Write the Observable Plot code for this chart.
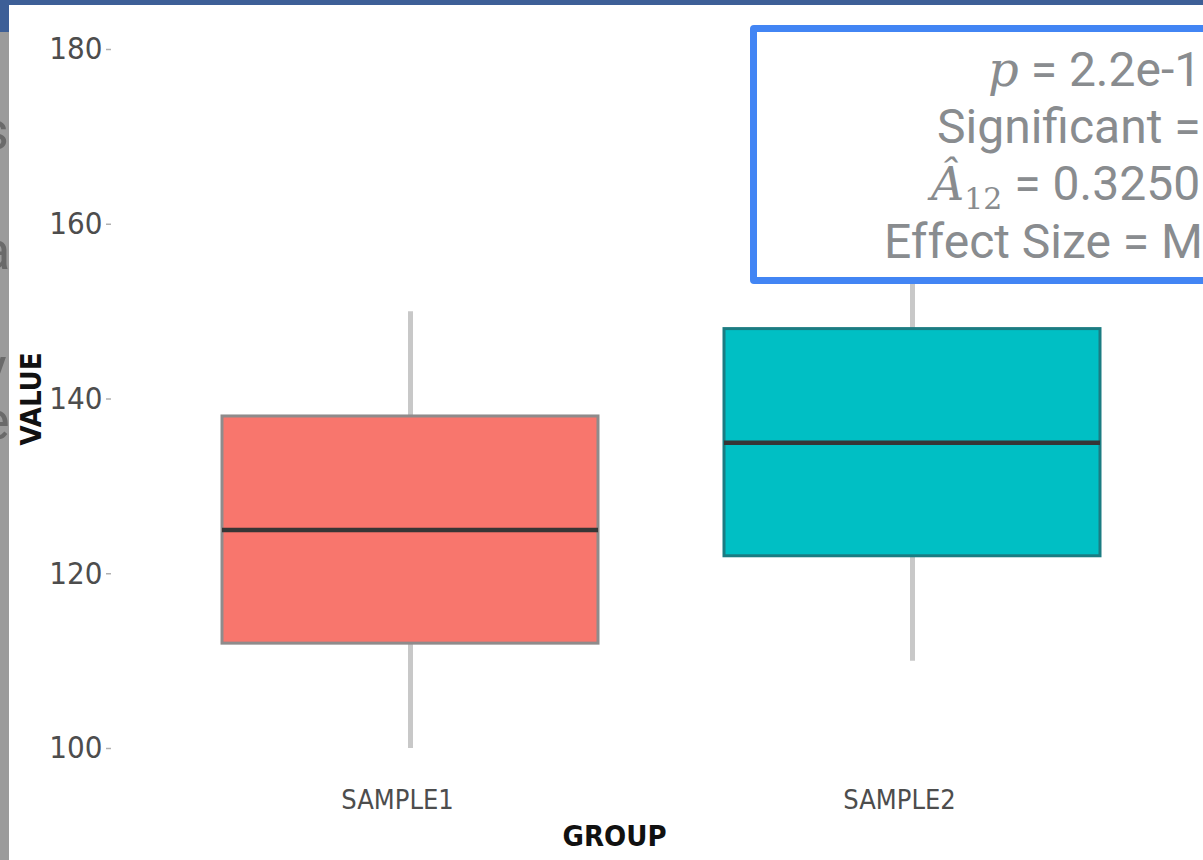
<!DOCTYPE html>
<html>
<head>
<meta charset="utf-8">
<script src="https://cdn.jsdelivr.net/npm/d3@7"></script>
<script src="https://cdn.jsdelivr.net/npm/@observablehq/plot@0.6"></script>
<style>
  html, body { margin: 0; padding: 0; }
  body { width: 1203px; height: 860px; overflow: hidden; position: relative; background: #fff; }
  #chart { position: absolute; left: 0; top: 0; }
  .topbar { position: absolute; left: 0; top: 0; width: 1203px; height: 5px; background: #3d5f97; }
  .leftblue { position: absolute; left: 0; top: 0; width: 9px; height: 32px; background: #3d5f97; }
  .leftgrey { position: absolute; left: 0; top: 32px; width: 9px; height: 828px; background: #9b9b9b; overflow: hidden; }
  .leftgrey span { position: absolute; font-family: Roboto, sans-serif; font-size: 54px; line-height: 54px; color: #6a6a6a; }
  .annot { position: absolute; left: 750px; top: 25px; width: 620px; height: 259px; box-sizing: border-box;
           border: 7px solid #4285f4; border-radius: 4px; background: #fff; }
  .line { position: absolute; font-family: Roboto, sans-serif; font-size: 48px; line-height: 48px; color: #898c8f; white-space: nowrap; }
  .math { font-family: "DejaVu Serif", "Liberation Serif", serif; font-style: italic; }
  .sub { font-family: "DejaVu Serif", "Liberation Serif", serif; font-size: 30px; line-height: 30px; vertical-align: -9px; }
</style>
</head>
<body>
<div id="chart"></div>
<div class="topbar"></div>
<div class="leftblue"></div>
<div class="leftgrey" id="leftgrey"></div>
<div class="annot"></div>
<div id="annotText"></div>
<script>
// ---- data ----
const groups = ["SAMPLE1", "SAMPLE2"];
const whiskerLow = [100, 110];
const q1 = [112, 122];
const median = [125, 135];
const q3 = [138, 148];
const whiskerHigh = [150, 160];
const yTicks = [100, 120, 140, 160, 180];
const xLabel = "GROUP";
const yLabel = "VALUE";

// statistics annotation
const statP = "2.2e-16";
const statSignificant = "Yes";
const statA12 = "0.3250";
const statEffect = "Medium";

// partial text of the neighbouring panel on the left
const sideLetters = ["s", "a", "y", "e"];

// ---- styles (kept out of the data) ----
const fillColors = {SAMPLE1: "#F8766D", SAMPLE2: "#00BFC4"};
const edgeColors = {SAMPLE1: "#8f8b8b", SAMPLE2: "#1b7c82"};

const rows = groups.map((g, i) => ({
  group: g, lo: whiskerLow[i], q1: q1[i], med: median[i], q3: q3[i], hi: whiskerHigh[i]
}));

const font = '"DejaVu Sans Condensed", "Liberation Sans Narrow", sans-serif';

const chart = Plot.plot({
  width: 1203,
  height: 860,
  marginLeft: 111,
  marginRight: 0,
  marginTop: 49,
  marginBottom: 112,
  style: {background: "#fff", fontFamily: font},
  x: {type: "band", domain: groups, range: [222, 1100], paddingInner: 0.251, paddingOuter: 0, align: 0.5},
  y: {domain: [100, 180], range: [748, 49]},
  marks: [
    Plot.ruleX(rows, {x: "group", y1: "lo", y2: "hi", stroke: "#c8c8c8", strokeWidth: 5}),
    Plot.barY(rows, {x: "group", y1: "q1", y2: "q3",
      fill: d => fillColors[d.group], stroke: d => edgeColors[d.group], strokeWidth: 3}),
    Plot.tickY(rows, {x: "group", y: "med", stroke: "#363636", strokeWidth: 4.5}),
    Plot.axisY(yTicks, {anchor: "left", tickSize: 5, tickPadding: 4, stroke: "#b0b0b0", strokeWidth: 1.5,
      fill: "#4d4d4d", fontSize: 31, label: null}),
    Plot.axisX(groups, {anchor: "bottom", tickSize: 0, tickPadding: 41, dx: -13, fill: "#4d4d4d", fontSize: 27, label: null}),
    Plot.text([yLabel], {frameAnchor: "left", textAnchor: "middle", lineAnchor: "middle", rotate: -90, dx: -80,
      fontSize: 29, fontWeight: "bold", fill: "#111"}),
    Plot.text([xLabel], {frameAnchor: "bottom", textAnchor: "middle", lineAnchor: "middle", dx: -43, dy: 88,
      fontSize: 29, fontWeight: "bold", fill: "#111"})
  ]
});
document.getElementById("chart").appendChild(chart);

// left strip letters
const lg = document.getElementById("leftgrey");
const letterTops = [72, 192, 308, 362];
sideLetters.forEach((ch, i) => {
  const s = document.createElement("span");
  s.textContent = ch;
  s.style.left = "-19px";
  s.style.top = letterTops[i] + "px";
  lg.appendChild(s);
});

// annotation text
const at = document.getElementById("annotText");
const lines = [
  {html: `<span class="math">p</span> = ${statP}`, left: 988, top: 45},
  {html: `Significant = ${statSignificant}`, left: 937, top: 103},
  {html: `<span class="math" style="font-size:46px">Â</span><span class="sub">12</span> = ${statA12}`, left: 931, top: 160},
  {html: `Effect Size = ${statEffect}`, left: 884, top: 218}
];
lines.forEach(l => {
  const d = document.createElement("div");
  d.className = "line";
  d.innerHTML = l.html;
  d.style.left = l.left + "px";
  d.style.top = l.top + "px";
  at.appendChild(d);
});
</script>
</body>
</html>
